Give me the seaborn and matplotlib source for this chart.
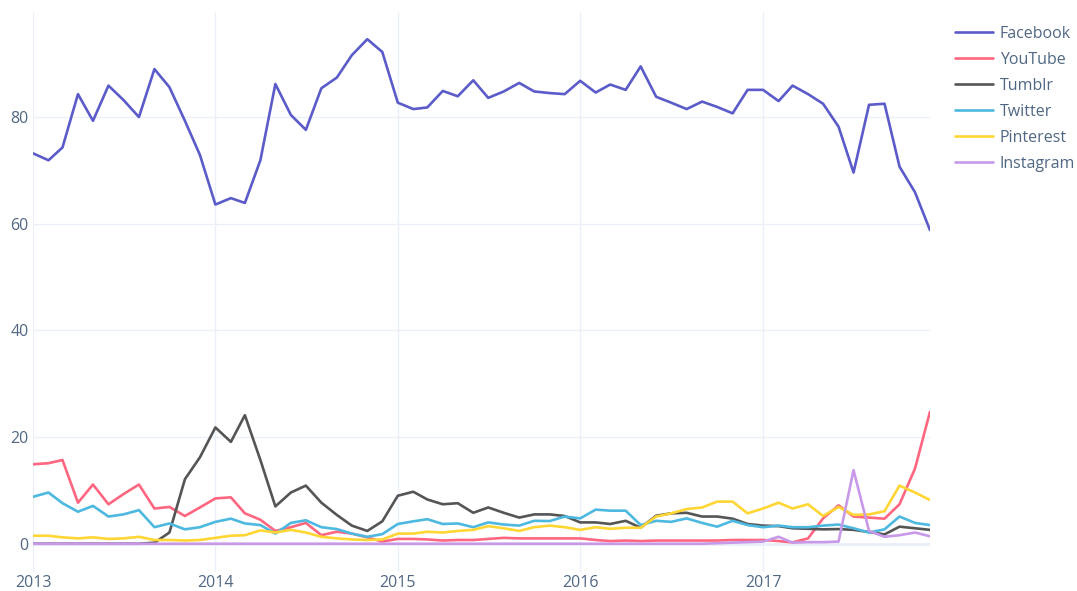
import pandas as pd
import seaborn as sns
import matplotlib.pyplot as plt
import matplotlib.dates as mdates

# monthly share, Jan 2013 - Dec 2017
months = pd.date_range("2013-01-01", "2017-12-01", freq="MS")

facebook = [73.2, 71.9, 74.3, 84.3, 79.3, 85.9, 83.2, 80.0, 89.0, 85.6, 79.3, 72.9,
            63.6, 64.8, 63.9, 71.9, 86.2, 80.4, 77.6, 85.4, 87.4, 91.6, 94.6, 92.2,
            82.7, 81.5, 81.8, 84.9, 83.9, 86.9, 83.6, 84.8, 86.4, 84.8, 84.5, 84.3,
            86.8, 84.6, 86.1, 85.1, 89.5, 83.8, 82.7, 81.5, 82.9, 81.9, 80.7, 85.1,
            85.1, 83.0, 85.9, 84.3, 82.5, 78.2, 69.6, 82.3, 82.5, 70.7, 65.9, 58.8]
youtube = [14.9, 15.1, 15.7, 7.7, 11.1, 7.4, 9.3, 11.1, 6.6, 6.9, 5.2, 6.8,
           8.5, 8.7, 5.7, 4.5, 2.4, 3.1, 3.9, 1.6, 2.25, 1.9, 1.2, 0.4,
           0.9, 0.9, 0.8, 0.6, 0.7, 0.7, 0.9, 1.1, 1.0, 1.0, 1.0, 1.0,
           1.0, 0.7, 0.5, 0.6, 0.5, 0.6, 0.6, 0.6, 0.6, 0.6, 0.7, 0.7,
           0.7, 0.5, 0.25, 1.0, 4.75, 7.2, 5.1, 4.9, 4.7, 7.4, 14.1, 24.75]
tumblr = [0.0, 0.0, 0.0, 0.0, 0.0, 0.0, 0.0, 0.0, 0.2, 2.1, 12.1, 16.2,
          21.8, 19.1, 24.1, 15.7, 7.0, 9.6, 10.9, 7.7, 5.4, 3.4, 2.4, 4.2,
          9.0, 9.75, 8.3, 7.4, 7.6, 5.8, 6.8, 5.8, 4.9, 5.5, 5.5, 5.2,
          4.0, 4.0, 3.7, 4.3, 3.0, 5.25, 5.7, 5.8, 5.1, 5.1, 4.7, 3.7,
          3.4, 3.3, 2.9, 2.8, 2.7, 2.75, 2.6, 2.2, 1.75, 3.2, 2.9, 2.6]
twitter = [8.8, 9.6, 7.6, 6.0, 7.1, 5.1, 5.5, 6.3, 3.1, 3.8, 2.7, 3.1,
           4.1, 4.7, 3.8, 3.5, 1.9, 3.9, 4.4, 3.1, 2.75, 1.9, 1.3, 1.8,
           3.7, 4.2, 4.6, 3.7, 3.8, 3.1, 4.0, 3.6, 3.4, 4.3, 4.25, 5.1,
           4.75, 6.4, 6.2, 6.2, 3.5, 4.3, 4.1, 4.75, 3.9, 3.2, 4.3, 3.5,
           3.1, 3.4, 3.1, 3.1, 3.4, 3.6, 2.9, 2.1, 2.7, 5.1, 3.9, 3.5]
pinterest = [1.5, 1.5, 1.2, 1.0, 1.2, 0.9, 1.0, 1.3, 0.7, 0.7, 0.6, 0.7,
             1.1, 1.5, 1.6, 2.5, 2.1, 2.6, 2.1, 1.3, 1.0, 0.8, 0.7, 0.8,
             1.9, 1.9, 2.25, 2.1, 2.4, 2.6, 3.3, 2.9, 2.4, 3.1, 3.4, 3.1,
             2.6, 3.1, 2.8, 3.0, 3.0, 5.1, 5.7, 6.5, 6.8, 7.9, 7.9, 5.7,
             6.6, 7.7, 6.6, 7.4, 5.2, 6.9, 5.4, 5.5, 6.1, 10.9, 9.6, 8.2]
instagram = [0.0, 0.0, 0.0, 0.0, 0.0, 0.0, 0.0, 0.0, 0.0, 0.0, 0.0, 0.0,
             0.0, 0.0, 0.0, 0.0, 0.0, 0.0, 0.0, 0.0, 0.0, 0.0, 0.0, 0.0,
             0.0, 0.0, 0.0, 0.0, 0.0, 0.0, 0.0, 0.0, 0.0, 0.0, 0.0, 0.0,
             0.0, 0.0, 0.0, 0.0, 0.0, 0.0, 0.0, 0.0, 0.0, 0.1, 0.2, 0.3,
             0.4, 1.3, 0.2, 0.3, 0.3, 0.4, 13.8, 2.4, 1.3, 1.6, 2.1, 1.4]

sites = ["Facebook", "YouTube", "Tumblr", "Twitter", "Pinterest", "Instagram"]
colors = ["#5b5bc9", "#ff6680", "#555555", "#4db8e0", "#ffd633", "#c799e8"]

df = pd.DataFrame({"month": months, "Facebook": facebook, "YouTube": youtube,
                   "Tumblr": tumblr, "Twitter": twitter, "Pinterest": pinterest,
                   "Instagram": instagram})
df = df.melt(id_vars="month", var_name="site", value_name="share")

sns.set_style("white")
plt.rcParams["font.family"] = ["Open Sans", "DejaVu Sans"]

fig = plt.figure(figsize=(10.77, 5.91), dpi=100)
ax = fig.add_axes([33 / 1077, 19 / 591, 897 / 1077, 560 / 591])

sns.lineplot(data=df, x="month", y="share", hue="site", hue_order=sites,
             palette=dict(zip(sites, colors)), linewidth=1.9, ax=ax)

ax.set_xlim(months[0], months[-1])
ax.set_ylim(-5.3, 99.7)
ax.set_yticks([0, 20, 40, 60, 80])
ax.xaxis.set_major_locator(mdates.YearLocator())
ax.xaxis.set_major_formatter(mdates.DateFormatter("%Y"))

ax.grid(True, color="#ebf0f8", linewidth=1)
ax.axhline(0, color="#ebf0f8", linewidth=2, zorder=0)
for s in ax.spines.values():
    s.set_visible(False)
ax.tick_params(length=0, labelsize=11.5, colors="#506784")
ax.tick_params(axis="y", pad=3)
ax.tick_params(axis="x", pad=2)
ax.set_xlabel("")
ax.set_ylabel("")

handles, labels = ax.get_legend_handles_labels()
ax.legend_.remove()
fig.legend(handles, labels, loc="upper left", bbox_to_anchor=(955 / 1077, 1 - 26 / 591),
           frameon=False, fontsize=11.5, handlelength=2.4, handletextpad=0.4,
           labelspacing=0.62, borderpad=0, borderaxespad=0, labelcolor="#506784")

fig.savefig("out.png", dpi=100)
